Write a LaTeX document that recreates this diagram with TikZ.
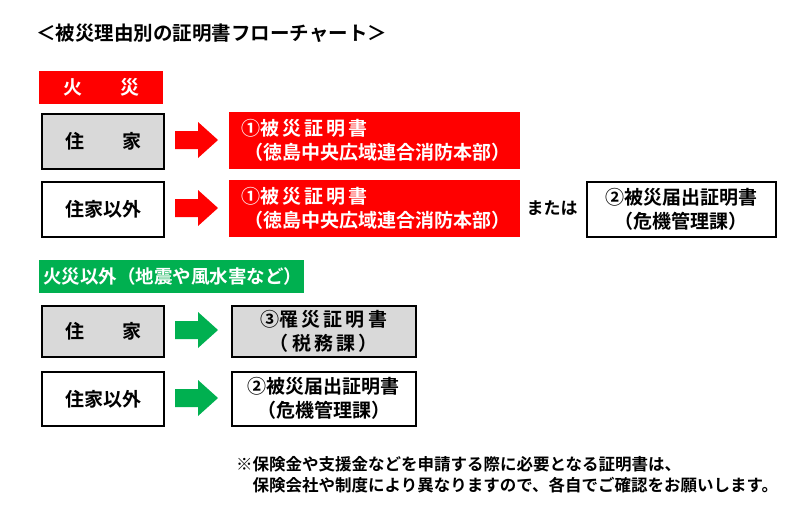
\documentclass[tikz,border=0pt]{standalone}
\usepackage{fontspec}
\setmainfont{Noto Sans CJK JP}[BoldFont={Noto Sans CJK JP Bold}]
\definecolor{fr}{RGB}{255,0,0}
\definecolor{gr}{RGB}{0,176,80}
\definecolor{lg}{RGB}{217,217,217}
\begin{document}
\begin{tikzpicture}[x=1pt,y=-1pt,font=\bfseries\fontsize{19}{24}\selectfont,
 cat/.style={draw=none,anchor=north west,inner sep=0,align=center},
 box/.style={draw=black,line width=2.2pt,anchor=north west,inner sep=0,align=center},
 cert/.style={box,draw=fr,line width=0.5pt,fill=fr,text=white,align=left}]
\newcommand\myarrow[3]{\fill[#1] (175,#2-9) -- (198,#2-9) -- (198,#2-18) -- (218,#2) -- (198,#2+18) -- (198,#2+9) -- (175,#2+9) -- cycle; \coordinate (#3) at (196,#2);}
\useasboundingbox (0,0) rectangle (800,522);
\node[anchor=west,inner sep=0,font=\bfseries\fontsize{19.5}{22}\selectfont] (t) at (36,33) {＜被災理由別の証明書フローチャート＞};
\node[cat,fill=fr,text=white,minimum width=124pt,minimum height=33pt] (c1) at (39,71) {火\hspace{2em}災};
\node[box,fill=lg,minimum width=122pt,minimum height=55pt] (h1) at (41,113) {住\hspace{2em}家};
\myarrow{fr}{140}{a1}
\node[cert,minimum width=290pt,minimum height=56pt] (r1) at (229,112) {\hspace{3pt}①被\,災\,証\,明\,書\\\hspace{6pt}（徳島中央広域連合消防本部）};
\node[box,fill=white,minimum width=122pt,minimum height=55pt] (h2) at (41,181) {住家以外};
\myarrow{fr}{208}{a2}
\node[cert,minimum width=290pt,minimum height=56pt] (r2) at (229,180) {\hspace{3pt}①被\,災\,証\,明\,書\\\hspace{6pt}（徳島中央広域連合消防本部）};
\node[inner sep=0,font=\bfseries\fontsize{17}{20}\selectfont] (or) at (552,208) {または};
\node[box,line width=1.6pt,fill=white,minimum width=189pt,minimum height=55pt] (r3) at (586,181) {②被災届出証明書\\（危機管理課）};
\node[cat,fill=gr,text=white,minimum width=265pt,minimum height=33pt,align=left,font=\bfseries\fontsize{18.5}{22}\selectfont] (c2) at (39,260) {\hspace{2pt}火災以外（地震や風水害など）\hfill};
\node[box,fill=lg,minimum width=122pt,minimum height=51pt] (h3) at (41,305) {住\hspace{2em}家};
\myarrow{gr}{330}{a3}
\node[box,line width=1.6pt,fill=lg,minimum width=184pt,minimum height=51pt] (r4) at (231,305) {③罹\,災\,証\,明\,書\\（\,税\,務\,課\,）};
\node[box,fill=white,minimum width=122pt,minimum height=54pt] (h4) at (41,371) {住家以外};
\myarrow{gr}{398}{a4}
\node[box,line width=1.6pt,fill=white,minimum width=184pt,minimum height=54pt] (r5) at (231,371) {②被災届出証明書\\（危機管理課）};
\node[anchor=north west,inner sep=0,align=left,font=\bfseries\fontsize{16.5}{21}\selectfont] (n) at (236,456) {※保険金や支援金などを申請する際に必要となる証明書は、\\\hspace{1em}保険会社や制度により異なりますので、各自でご確認をお願いします。};
\end{tikzpicture}
\end{document}
